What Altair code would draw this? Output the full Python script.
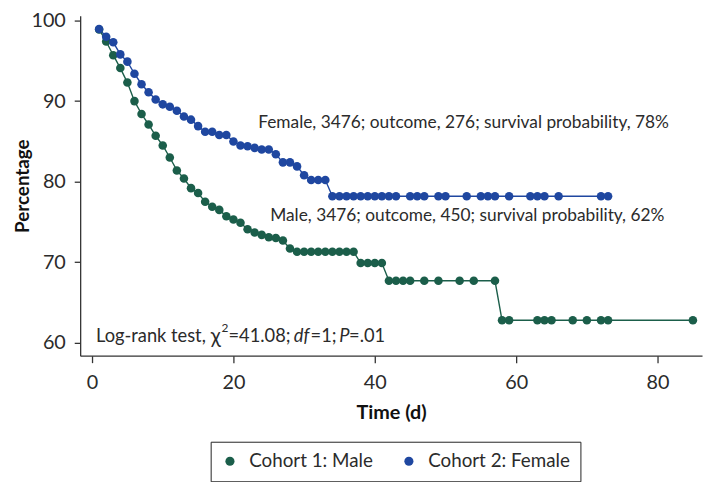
import altair as alt
import pandas as pd

# ---- data ----
male_t = [1, 2, 3, 4, 5, 6, 7, 8, 9, 10, 11, 12, 13, 14, 15, 16, 17, 18, 19, 20,
          21, 22, 23, 24, 25, 26, 27, 28, 29, 30, 31, 32, 33, 34, 35, 36, 37,
          38, 39, 40, 41, 42, 43, 44, 45, 47, 49, 52, 54, 57,
          58, 59, 63, 64, 65, 68, 70, 72, 73, 85]
male_v = [98.9, 97.4, 95.7, 94.1, 92.3, 90.0, 88.4, 87.1, 85.7, 84.5, 83.0, 81.4, 80.4, 79.2, 78.6,
          77.5, 76.9, 76.5, 75.7, 75.3, 74.9, 74.1, 73.7, 73.4, 73.1, 73.0, 72.7, 71.7,
          71.3, 71.3, 71.3, 71.3, 71.3, 71.3, 71.3, 71.3, 71.3,
          69.9, 69.9, 69.9, 69.9, 67.7, 67.7, 67.7, 67.7, 67.7, 67.7, 67.7, 67.7, 67.7,
          62.8, 62.8, 62.8, 62.8, 62.8, 62.8, 62.8, 62.8, 62.8, 62.8]

female_t = [1, 2, 3, 4, 5, 6, 7, 8, 9, 10, 11, 12, 13, 14, 15, 16, 17, 18, 19, 20,
            21, 22, 23, 24, 25, 26, 27, 28, 29, 30, 31, 32, 33,
            34, 35, 36, 37, 38, 39, 40, 41, 42, 43, 45, 46, 47, 49, 50, 53,
            55, 56, 57, 59, 62, 63, 64, 66, 72, 73]
female_v = [98.95, 98.0, 97.3, 95.8, 94.9, 93.4, 92.1, 91.1, 90.2, 89.6, 89.3, 88.8, 88.1, 87.7,
            86.9, 86.2, 86.2, 85.8, 85.8, 85.0, 84.5, 84.4, 84.2, 84.0, 84.0, 83.4, 82.4, 82.4,
            81.9, 80.8, 80.2, 80.2, 80.2,
            78.2, 78.2, 78.2, 78.2, 78.2, 78.2, 78.2, 78.2, 78.2, 78.2, 78.2, 78.2, 78.2, 78.2,
            78.2, 78.2, 78.2, 78.2, 78.2, 78.2, 78.2, 78.2, 78.2, 78.2, 78.2, 78.2]

cohorts = ["Cohort 1: Male", "Cohort 2: Female"]
colors = ["#1b5e4a", "#1f47a0"]

ann_text = ["Female, 3476; outcome, 276; survival probability, 78%",
            "Male, 3476; outcome, 450; survival probability, 62%"]
ann_t = [23.5, 25.2]
ann_v = [87.3, 75.7]

stat_t = [0.56]
stat_v = [60.85]

x_ticks = [0, 20, 40, 60, 80]
y_ticks = [60, 70, 80, 90, 100]

FONT = "Lato"
INK = "#2b2b2b"

df = pd.concat([
    pd.DataFrame({"t": male_t, "v": male_v, "cohort": cohorts[0]}),
    pd.DataFrame({"t": female_t, "v": female_v, "cohort": cohorts[1]}),
], ignore_index=True)

ann = pd.DataFrame({"t": ann_t, "v": ann_v, "text": ann_text})
stat = pd.DataFrame({"t": stat_t, "v": stat_v})

xscale = alt.Scale(domain=[-1.68, 86.29], nice=False, zero=False)
yscale = alt.Scale(domain=[58.40, 100.61], nice=False, zero=False)
cscale = alt.Scale(domain=cohorts, range=colors)

x = alt.X("t:Q", scale=xscale,
          axis=alt.Axis(values=x_ticks, title="Time (d)", grid=False, tickSize=7,
                        labelPadding=10, titlePadding=11))
y = alt.Y("v:Q", scale=yscale,
          axis=alt.Axis(values=y_ticks, title="Percentage", grid=False, tickSize=6,
                        labelPadding=9, titlePadding=-2, titleFontSize=19))

base = alt.Chart(df)
lines = base.mark_line(strokeWidth=1.4).encode(
    x=x, y=y, color=alt.Color("cohort:N", scale=cscale, legend=None))
points = base.mark_point(filled=True, size=75, opacity=1).encode(
    x=x, y=y,
    color=alt.Color("cohort:N", scale=cscale,
                    legend=alt.Legend(title=None, orient="none", direction="horizontal",
                                      legendX=132, legendY=431,
                                      strokeColor="#222", padding=10,
                                      symbolType="circle", symbolSize=85,
                                      labelFontSize=19, labelFont=FONT, labelColor=INK,
                                      labelOffset=10, columnPadding=26)))

labels = alt.Chart(ann).mark_text(align="left", baseline="middle", font=FONT,
                                  fontSize=17.5, color=INK).encode(
    x="t:Q", y="v:Q", text="text:N")

def seg(text, dx, italic=False, size=18.5, dy=0):
    return alt.Chart(stat).mark_text(align="left", baseline="middle", font=FONT,
                                     fontSize=size, color=INK, dx=dx, dy=dy,
                                     fontStyle="italic" if italic else "normal").encode(
        x="t:Q", y="v:Q", text=alt.value(text))

stat_layers = [
    seg("Log-rank test,", 0),
    seg("χ", 116, size=21, dy=1),
    seg("2", 127, size=12, dy=-8),
    seg("=41.08;", 134),
    seg("df", 200, italic=True),
    seg("=1;", 217),
    seg("P", 246, italic=True),
    seg("=.01", 256),
]

chart = alt.layer(lines, points, labels, *stat_layers).resolve_legend(
    color="independent"
).properties(
    width=629, height=344,
    autosize=alt.AutoSizeParams(type="none"),
    padding={"left": 73, "top": 5, "right": 2, "bottom": 125},
).configure_view(stroke=None).configure_axis(
    domainColor="#333", domainWidth=1.3, tickColor="#333", tickWidth=1.3,
    labelFont=FONT, labelFontSize=20, labelColor=INK,
    titleFont=FONT, titleFontSize=20, titleFontWeight="bold", titleColor="#111",
)

chart.save("out.html", embed_options={"renderer": "svg", "actions": False})
